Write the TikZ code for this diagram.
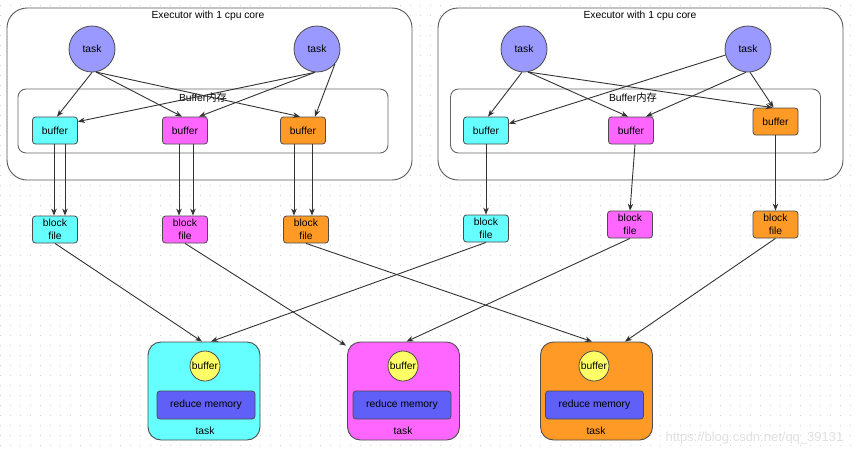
\documentclass[tikz,border=0pt]{standalone}
\usepackage{fontspec}
\setmainfont{Liberation Sans}
\newfontfamily\cjkfont{Noto Sans CJK SC}
\usetikzlibrary{arrows.meta,calc}
\definecolor{cyanF}{HTML}{66FFFF}
\definecolor{magF}{HTML}{FF66FF}
\definecolor{oraF}{HTML}{FF9A26}
\definecolor{taskF}{HTML}{9999FF}
\definecolor{redF}{HTML}{6060F8}
\definecolor{yelF}{HTML}{FFFF66}
\begin{document}
\begin{tikzpicture}[x=1pt,y=-1pt,font=\fontsize{10.3}{12}\selectfont,
  dotgrid/.style={draw=black!18,line width=0.9pt,dash pattern=on 0.9pt off 9.1pt},
  exec/.style={draw=black!65,line width=0.9pt,fill=white,rounded corners=20pt,minimum width=405pt,minimum height=172pt,inner sep=0pt},
  bufmem/.style={draw=black!60,line width=0.9pt,fill=white,rounded corners=8pt,minimum width=370pt,minimum height=64pt,inner sep=0pt},
  taskc/.style={circle,draw=black!70,line width=0.8pt,fill=taskF,minimum size=46pt,inner sep=0pt},
  bufbox/.style={draw=black!70,line width=0.8pt,rounded corners=3pt,minimum width=45pt,minimum height=27pt,inner sep=0pt},
  blockbox/.style={bufbox,align=center,font=\fontsize{10.3}{12.5}\selectfont},
  rtask/.style={draw=black!70,line width=0.9pt,rounded corners=13pt,minimum width=112pt,minimum height=98pt,inner sep=0pt},
  ybuf/.style={circle,draw=black!70,line width=0.8pt,fill=yelF,minimum size=30pt,inner sep=0pt},
  redbox/.style={draw=black!70,line width=0.8pt,fill=redF,rounded corners=3pt,minimum width=98pt,minimum height=28pt,inner sep=0pt},
  arr/.style={draw=black!80,line width=0.9pt,-{Stealth[length=7pt,width=5.5pt]}}]
\useasboundingbox (0,0) rectangle (858,448);
\fill[white] (0,0) rectangle (858,448);
\foreach \yy in {5,15,...,445} \draw[dotgrid] (0,\yy) -- (858,\yy);
% executors
\node[exec] (E1) at (209.5,94) {};
\node[exec] (E2) at (640.5,94) {};
\node (E1t) at (208,16) {Executor with 1 cpu core};
\node (E2t) at (640,16) {Executor with 1 cpu core};
\node[bufmem] (B1) at (203,121) {};
\node[bufmem] (B2) at (635.5,121) {};
\node (B1t) at (203,98) {Buffer{\cjkfont 内存}};
\node (B2t) at (633,98) {Buffer{\cjkfont 内存}};
% tasks
\node[taskc] (T1) at (92,49) {task};
\node[taskc] (T2) at (317,49) {task};
\node[taskc] (T3) at (524,49) {task};
\node[taskc] (T4) at (748,49) {task};
% buffers
\node[bufbox,fill=cyanF] (cL) at (55,130.5) {buffer};
\node[bufbox,fill=magF] (mL) at (185,130.5) {buffer};
\node[bufbox,fill=oraF] (oL) at (303,130.5) {buffer};
\node[bufbox,fill=cyanF] (cR) at (486,130.5) {buffer};
\node[bufbox,fill=magF] (mR) at (631,130.5) {buffer};
\node[bufbox,fill=oraF] (oR) at (775.5,121.5) {buffer};
% block files
\node[blockbox,fill=cyanF] (bcL) at (55,229.5) {block\\file};
\node[blockbox,fill=magF] (bmL) at (185,229.5) {block\\file};
\node[blockbox,fill=oraF] (boL) at (306,229.5) {block\\file};
\node[blockbox,fill=cyanF] (bcR) at (486,228.5) {block\\file};
\node[blockbox,fill=magF] (bmR) at (630,224.5) {block\\file};
\node[blockbox,fill=oraF] (boR) at (775.5,224.5) {block\\file};
% reduce tasks
\node[rtask,fill=cyanF] (CT) at (204,391) {};
\node[rtask,fill=magF] (MT) at (403.5,391) {};
\node[rtask,fill=oraF] (OT) at (596.5,391) {};
\node[ybuf] (CY) at (205,366) {buffer};
\node[ybuf] (MY) at (403,366) {buffer};
\node[ybuf] (OY) at (594,366) {buffer};
\node[redbox] (CR) at (206,405) {reduce memory};
\node[redbox] (MR) at (402,405) {reduce memory};
\node[redbox] (OR) at (594.5,405) {reduce memory};
\node (CTt) at (205,431) {task};
\node (MTt) at (403,431) {task};
\node (OTt) at (596,431) {task};
% task -> buffer (left)
\draw[arr] (T1.south) -- ($(cL.north)+(2,0)$);
\draw[arr] (T1.-80) -- ($(mL.north)+(-3,0)$);
\draw[arr] (T1.-80) -- ($(oL.north)+(-3,0)$);
\draw[arr] (T2.-95) -- ($(cL.north east)+(0,5)$);
\draw[arr] (T2.-95) -- ($(mL.north)+(14,0)$);
\draw[arr] (T2.-40) -- ($(oL.north)+(12,0)$);
% task -> buffer (right)
\draw[arr] (T3.-95) -- ($(cR.north)+(2,0)$);
\draw[arr] (T3.-80) -- ($(mR.north)+(-3,0)$);
\draw[arr] (T3.-80) -- ($(oR.north)+(-3,0)$);
\draw[arr] (T4.195) -- ($(cR.north east)+(0,7)$);
\draw[arr] (T4.-95) -- ($(mR.north)+(15,0)$);
\draw[arr] (T4.-85) -- ($(oR.north)+(-2,0)$);
% buffer -> block file
\draw[arr] ($(cL.south)+(-1,0)$) -- ($(bcL.north)+(-1,0)$);
\draw[arr] ($(cL.south)+(10,0)$) -- ($(bcL.north)+(10,0)$);
\draw[arr] ($(mL.south)+(-6,0)$) -- ($(bmL.north)+(-6,0)$);
\draw[arr] ($(mL.south)+(8,0)$) -- ($(bmL.north)+(8,0)$);
\draw[arr] ($(oL.south)+(-9,0)$) -- ($(boL.north)+(-12,0)$);
\draw[arr] ($(oL.south)+(9,0)$) -- ($(boL.north)+(6,0)$);
\draw[arr] (cR.south) -- (bcR.north);
\draw[arr] ($(mR.south)+(4,0)$) -- (bmR.north);
\draw[arr] (oR.south) -- (boR.north);
% block file -> reduce task
\draw[arr] (bcL.south) -- ($(CT.north)+(-2,0)$);
\draw[arr] (bcR.south) -- ($(CT.north)+(7,0)$);
\draw[arr] (bmL.south) -- ($(MT.north west)+(-1,4)$);
\draw[arr] (bmR.south) -- ($(MT.north)+(3,0)$);
\draw[arr] (boL.south) -- ($(OT.north)+(-4.5,0)$);
\draw[arr] (boR.south) -- ($(OT.north)+(28.5,0)$);
% watermark
\node[text=black!12,anchor=west,font=\fontsize{13}{15}\selectfont] (wm) at (662,438) {https://blog.csdn.net/qq\_39131};
\end{tikzpicture}
\end{document}
